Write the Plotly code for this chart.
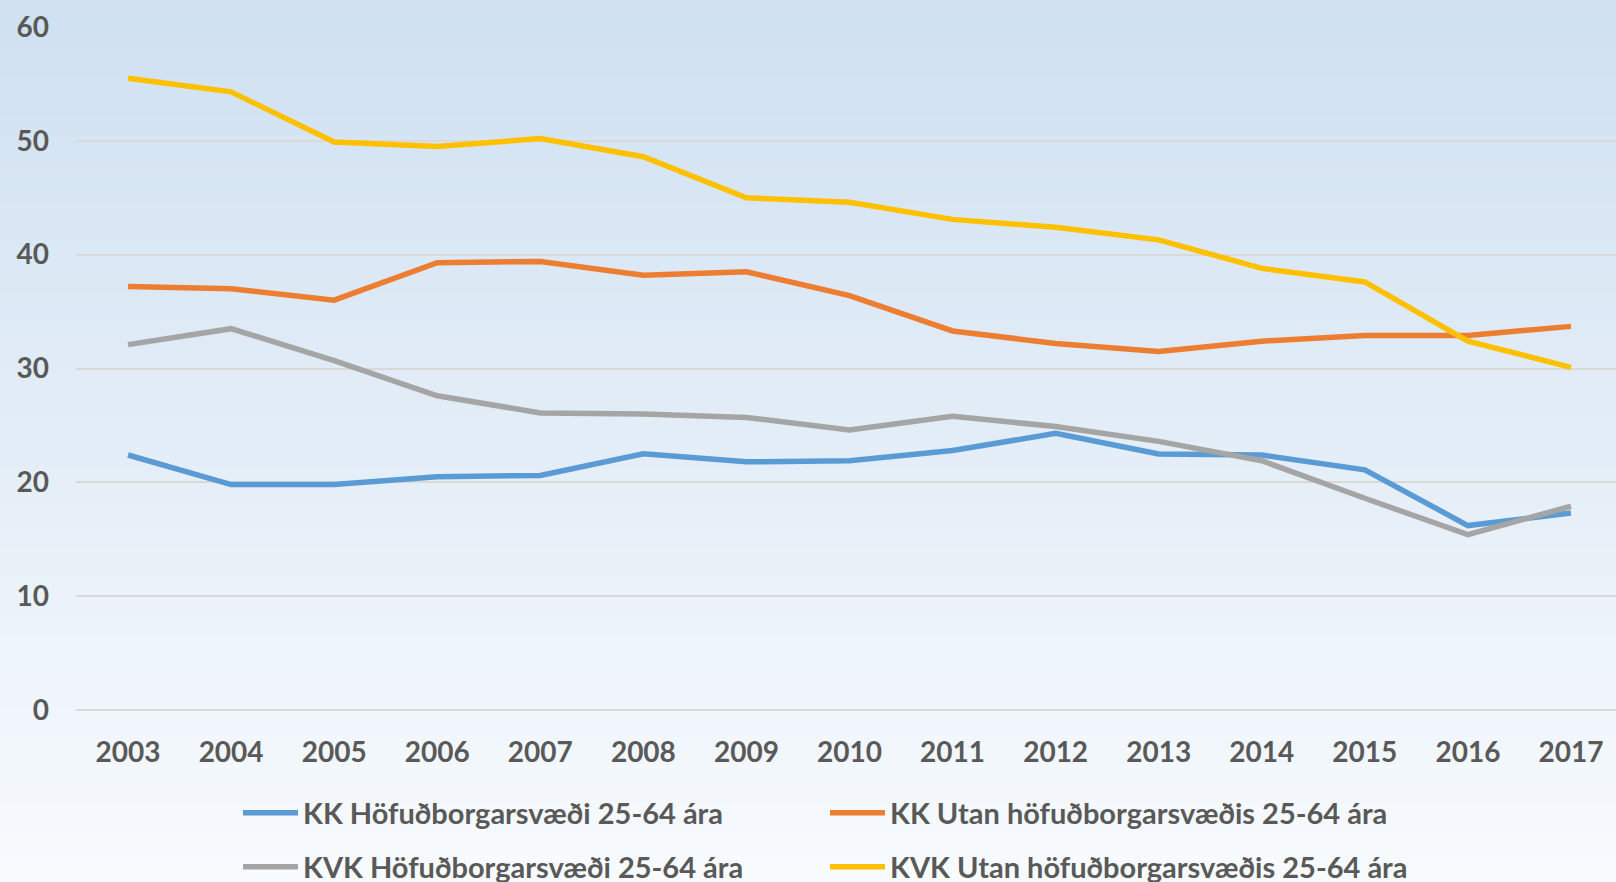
import plotly.graph_objects as go

years = [str(y) for y in range(2003, 2018)]
kk_hofud = [22.4, 19.8, 19.8, 20.5, 20.6, 22.5, 21.8, 21.9, 22.8, 24.3, 22.5, 22.4, 21.1, 16.2, 17.3]
kk_utan = [37.2, 37.0, 36.0, 39.3, 39.4, 38.2, 38.5, 36.4, 33.3, 32.2, 31.5, 32.4, 32.9, 32.9, 33.7]
kvk_hofud = [32.1, 33.5, 30.7, 27.6, 26.1, 26.0, 25.7, 24.6, 25.8, 24.9, 23.6, 21.9, 18.6, 15.4, 17.9]
kvk_utan = [55.5, 54.3, 49.9, 49.5, 50.2, 48.6, 45.0, 44.6, 43.1, 42.4, 41.3, 38.8, 37.6, 32.4, 30.1]
names = ["KK Höfuðborgarsvæði 25-64 ára", "KK Utan höfuðborgarsvæðis 25-64 ára",
         "KVK Höfuðborgarsvæði 25-64 ára", "KVK Utan höfuðborgarsvæðis 25-64 ára"]
colors = ["#5b9bd5", "#ed7d31", "#a5a5a5", "#ffc000"]
legends = ["legend", "legend", "legend2", "legend2"]
series = [kk_hofud, kk_utan, kvk_hofud, kvk_utan]

W, H = 1616, 882
L, R, T, B = 76, 0, 27, 172
pw, ph = W - L - R, H - T - B

fig = go.Figure()
for n, c, lg, s in zip(names, colors, legends, series):
    fig.add_trace(go.Scatter(x=years, y=s, name=n, mode="lines",
                             line=dict(color=c, width=5.5), legend=lg))

# background gradient stripes
top = (0xcf, 0xe0, 0xf1)
bot = (0xf8, 0xfb, 0xfe)
N = 90
shapes = []
for i in range(N):
    p0, p1 = i * H / N, (i + 1) * H / N + 0.8
    t = (i + 0.5) / N
    col = tuple(round(a + (b - a) * t) for a, b in zip(top, bot))
    shapes.append(dict(type="rect", xref="paper", yref="paper", layer="below",
                       x0=-L / pw - 0.01, x1=1.01,
                       y0=(T + ph - p1) / ph, y1=(T + ph - p0) / ph,
                       fillcolor="rgb(%d,%d,%d)" % col, line=dict(width=0)))

font_col = "#595959"
fam = "Lato, Open Sans, sans-serif"
legfont = dict(size=29, family=fam, color=font_col, weight="bold")
leg_x = (238 - L) / pw
fig.update_layout(
    width=W, height=H, margin=dict(l=L, r=R, t=T, b=B, pad=0, autoexpand=False),
    paper_bgcolor="#f8fbfe", plot_bgcolor="rgba(0,0,0,0)",
    shapes=shapes,
    font=dict(family=fam, color=font_col),
    xaxis=dict(type="category", range=[-0.505, 14.437], showgrid=False, showline=False,
               ticks="", tickfont=dict(size=28, family=fam, color=font_col, weight="bold"),
               ticklabelstandoff=23),
    yaxis=dict(range=[0, 60], dtick=10, showgrid=True, gridcolor="#d9d9d9", gridwidth=2,
               zeroline=True, zerolinecolor="#d9d9d9", zerolinewidth=2, showline=False,
               ticks="", tickfont=dict(size=28, family=fam, color=font_col, weight="bold"),
               ticklabelstandoff=26),
    legend=dict(orientation="h", x=leg_x, xanchor="left", yref="container", y=1 - 813 / H,
                yanchor="middle", entrywidth=517, itemwidth=55, bgcolor="rgba(0,0,0,0)",
                font=legfont),
    legend2=dict(orientation="h", x=leg_x, xanchor="left", yref="container", y=1 - 867 / H,
                 yanchor="middle", entrywidth=517, itemwidth=55, bgcolor="rgba(0,0,0,0)",
                 font=legfont),
    showlegend=True,
)
fig.write_html("out.html", config={"displayModeBar": False},
               post_script="document.body.style.margin='0';document.body.style.overflow='hidden';")
